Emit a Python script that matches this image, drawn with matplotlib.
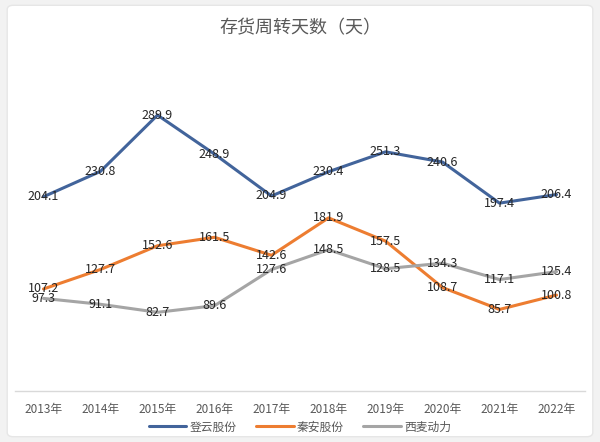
import matplotlib
matplotlib.use("Agg")
import matplotlib.pyplot as plt
from matplotlib.patches import FancyBboxPatch

plt.rcParams['font.family'] = ['Noto Sans CJK SC', 'DejaVu Sans']

# --- data ---
years = ["2013年", "2014年", "2015年", "2016年", "2017年",
         "2018年", "2019年", "2020年", "2021年", "2022年"]
dengyun = [204.1, 230.8, 289.9, 248.9, 204.9, 230.4, 251.3, 240.6, 197.4, 206.4]
qinan = [107.2, 127.7, 152.6, 161.5, 142.6, 181.9, 157.5, 108.7, 85.7, 100.8]
ximai = [97.3, 91.1, 82.7, 89.6, 127.6, 148.5, 128.5, 134.3, 117.1, 125.4]

series = [
    ("登云股份", dengyun, "#42649b"),
    ("秦安股份", qinan, "#ed7d31"),
    ("西麦动力", ximai, "#a5a5a5"),
]

fig = plt.figure(figsize=(6.0, 4.42), dpi=100)
fig.patch.set_facecolor("#f2f2f2")
# white chart panel behind everything
fig.patches.append(FancyBboxPatch((0.012, 0.012), 0.976, 0.976,
                                  boxstyle="round,pad=0,rounding_size=0.01",
                                  transform=fig.transFigure, facecolor="white",
                                  edgecolor="#e6e6e6", linewidth=1, zorder=-1))

ax = fig.add_axes([0.025, 0.1154, 0.95, 0.7536])
ax.set_zorder(1)
ax.set_facecolor("none")
x = list(range(len(years)))

for name, vals, color in series:
    ax.plot(x, vals, color=color, linewidth=2.2, label=name,
            solid_joinstyle="round", solid_capstyle="round")
    # Excel-style data labels centred on the points
    for xi, v in zip(x, vals):
        ax.text(xi, v, f"{v:.1f}", ha="center", va="center",
                fontsize=9, color="#262626", zorder=5)

ax.set_xlim(-0.5, len(years) - 0.5)
ax.set_ylim(0, 350)
ax.set_yticks([])
ax.set_xticks(x)
ax.set_xticklabels(years, fontsize=8.5, color="#595959")
ax.tick_params(axis="x", length=0, pad=9)
for side in ("top", "left", "right"):
    ax.spines[side].set_visible(False)
ax.spines["bottom"].set_color("#d9d9d9")
ax.spines["bottom"].set_linewidth(1)

fig.text(0.5, 0.935, "存货周转天数（天）", ha="center", va="center",
         fontsize=13, color="#595959")

leg = fig.legend(loc="center", bbox_to_anchor=(0.5, 0.034), ncol=3,
                 frameon=False, fontsize=8.5, handlelength=3.2,
                 columnspacing=1.6, handletextpad=0.3)
for t in leg.get_texts():
    t.set_color("#595959")

fig.savefig("out.png", dpi=100, facecolor=fig.get_facecolor())
